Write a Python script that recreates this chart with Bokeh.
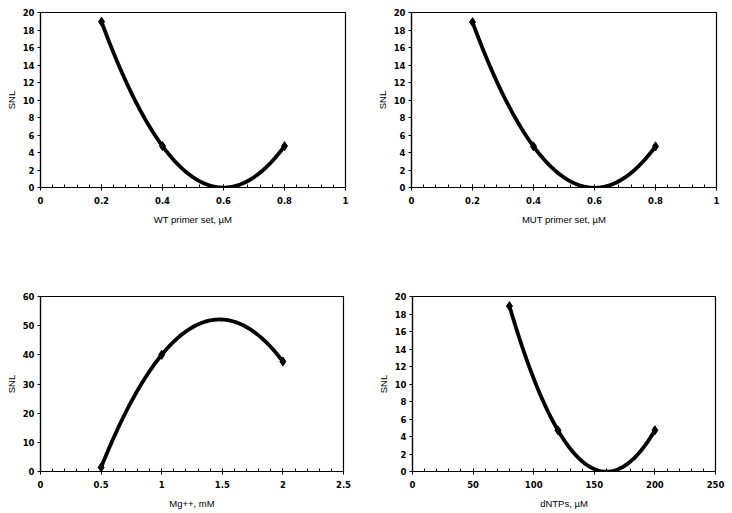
import numpy as np
from bokeh.plotting import figure
from bokeh.layouts import column, row
from bokeh.models import Range1d, FixedTicker, CustomJSTickFormatter
from bokeh.embed import file_html
from bokeh.resources import INLINE

# ---- data ----
wt_x = [0.2, 0.4, 0.8]
wt_y = [18.95, 4.73, 4.73]
mut_x = [0.2, 0.4, 0.8]
mut_y = [18.9, 4.7, 4.7]
mg_x = [0.5, 1.0, 2.0]
mg_y = [1.4, 40.0, 37.7]
dntp_x = [80, 120, 200]
dntp_y = [18.9, 4.71, 4.71]

primer_xticks = [0, 0.2, 0.4, 0.6, 0.8, 1.0]
mg_xticks = [0, 0.5, 1.0, 1.5, 2.0, 2.5]
dntp_xticks = [0, 50, 100, 150, 200, 250]
snl20_yticks = [0, 2, 4, 6, 8, 10, 12, 14, 16, 18, 20]
snl60_yticks = [0, 10, 20, 30, 40, 50, 60]

TICK_FONT = "DejaVu Sans"
LABEL_FONT = "Liberation Sans"
FMT = CustomJSTickFormatter(code="return String(+tick.toFixed(6));")


def panel(xs, ys, xlabel, xticks, yticks, width, height, bl, br, bt, bb):
    p = figure(width=width, height=height, output_backend="svg",
               toolbar_location=None, tools="",
               x_range=Range1d(xticks[0], xticks[-1]),
               y_range=Range1d(yticks[0], yticks[-1]),
               min_border_left=bl, min_border_right=br,
               min_border_top=bt, min_border_bottom=bb)
    p.grid.visible = False
    p.outline_line_color = "black"
    p.outline_line_width = 1.2
    p.background_fill_color = "white"
    p.border_fill_color = "white"

    step = xticks[1] - xticks[0]
    minor = [xticks[0] + i * step / 5 for i in range(5 * (len(xticks) - 1) + 1)]
    p.xaxis.ticker = FixedTicker(ticks=xticks, minor_ticks=minor)
    p.yaxis.ticker = FixedTicker(ticks=yticks, minor_ticks=[])
    for ax in (p.xaxis, p.yaxis):
        ax.formatter = FMT
        ax.axis_line_color = "black"
        ax.axis_line_width = 1.2
        ax.major_tick_line_color = "black"
        ax.minor_tick_line_color = "black"
        ax.major_label_text_font = TICK_FONT
        ax.major_label_text_font_style = "bold"
        ax.major_label_text_font_size = "8.5px"
        ax.major_label_text_color = "black"
        ax.axis_label_text_font = LABEL_FONT
        ax.axis_label_text_font_style = "normal"
        ax.axis_label_text_font_size = "9.5px"
        ax.axis_label_text_color = "black"
        ax.major_tick_out = 3
    p.xaxis.major_label_standoff = 6
    p.yaxis.major_label_standoff = 3
    p.xaxis.major_tick_in = 3
    p.xaxis.minor_tick_in = 3
    p.xaxis.minor_tick_out = 0
    p.yaxis.major_tick_in = 0
    p.xaxis.axis_label = xlabel
    p.yaxis.axis_label = "SNL"
    p.xaxis.axis_label_standoff = 7
    p.yaxis.axis_label_standoff = 3

    coef = np.polyfit(xs, ys, 2)
    xx = np.linspace(min(xs), max(xs), 200)
    p.line(xx, np.polyval(coef, xx), line_color="black", line_width=3.8,
           line_cap="round", line_join="round")
    p.scatter(xs, ys, marker="diamond", size=9, fill_color="black",
              line_color="black")
    return p


p1 = panel(wt_x, wt_y, "WT primer set, µM", primer_xticks, snl20_yticks,
           366, 283, 40, 21, 12, 96)
p2 = panel(mut_x, mut_y, "MUT primer set, µM", primer_xticks, snl20_yticks,
           360, 283, 45, 10, 12, 96)
p3 = panel(mg_x, mg_y, "Mg++, mM", mg_xticks, snl60_yticks,
           366, 228, 40, 23, 12, 40)
p4 = panel(dntp_x, dntp_y, "dNTPs, µM", dntp_xticks, snl20_yticks,
           360, 228, 46, 11, 13, 40)

layout = column(row(p1, p2, spacing=0), row(p3, p4, spacing=0), spacing=0)

open("out.html", "w").write(file_html(layout, INLINE))
